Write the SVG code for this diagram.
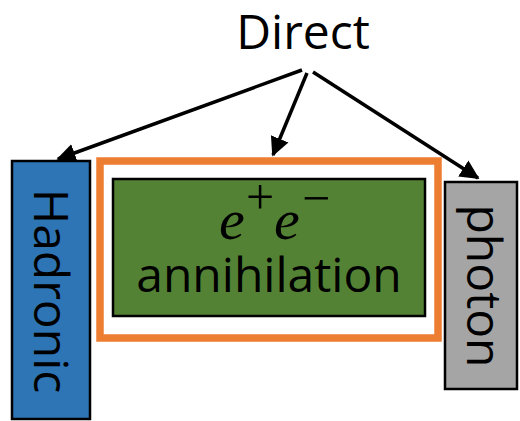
<svg xmlns="http://www.w3.org/2000/svg" width="520" height="421" viewBox="0 0 520 421">
<style>
.lbl{font-family:"Open Sans","Noto Sans",sans-serif;font-size:48px;fill:#000}
.box{stroke:#000;stroke-width:2.5}
.arr{stroke:#000;stroke-width:3.5;fill:none;marker-end:url(#ah)}
.math{font-family:"Liberation Serif",serif;fill:#000}
.mi{font-style:italic;font-size:58px}
.sup{font-size:50px}
</style>
<defs>
<marker id="ah" markerWidth="6" markerHeight="6" refX="5" refY="3" orient="auto" markerUnits="strokeWidth">
<path d="M0,0.3 L5.5,3 L0,5.7 z" fill="#000"/>
</marker>
</defs>
<g id="direct"><text class="lbl" x="303" y="49" text-anchor="middle">Direct</text></g>
<g id="hadronic">
<rect class="box" x="12" y="161" width="78" height="258" fill="#2E75B6"/>
<text class="lbl" transform="translate(34,291) rotate(90)" text-anchor="middle">Hadronic</text>
</g>
<g id="annihilation">
<rect x="100" y="161" width="338" height="177" fill="none" stroke="#ED7D31" stroke-width="7.5"/>
<rect class="box" x="113" y="179" width="312" height="137" fill="#548235"/>
<text class="math"><tspan class="mi" x="219" y="239">e</tspan><tspan class="sup" x="246" y="214">+</tspan><tspan class="mi" x="274" y="239">e</tspan><tspan class="sup" x="302" y="215">−</tspan></text>
<text class="lbl" x="269" y="292" text-anchor="middle">annihilation</text>
</g>
<g id="photon">
<rect class="box" x="445" y="182" width="72" height="207" fill="#A5A5A5"/>
<text class="lbl" transform="translate(467,286) rotate(90)" text-anchor="middle">photon</text>
</g>
<g id="connectors">
<path class="arr" d="M302,70 L58,159"/>
<path class="arr" d="M307,73 L273,155"/>
<path class="arr" d="M313,72 L478,178"/>
</g>
</svg>
